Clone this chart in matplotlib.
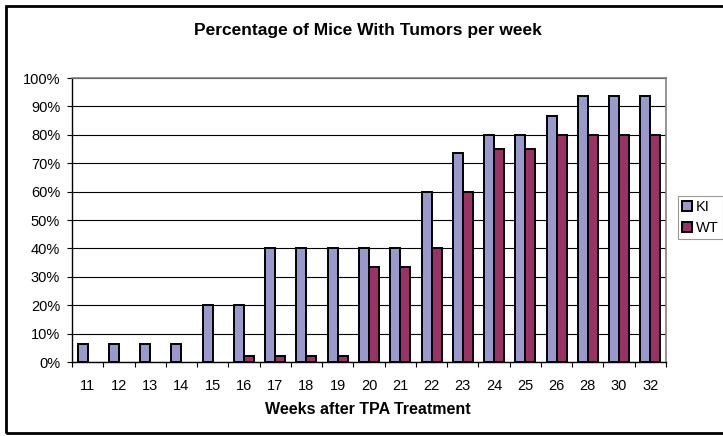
import matplotlib
matplotlib.use("Agg")
import matplotlib.pyplot as plt
import matplotlib.patches as mpatches
import numpy as np

weeks = ["11", "12", "13", "14", "15", "16", "17", "18", "19", "20",
         "21", "22", "23", "24", "25", "26", "28", "30", "32"]
ki = [6.25, 6.25, 6.25, 6.25, 20, 20, 40, 40, 40, 40,
      40, 60, 73.5, 80, 80, 86.5, 93.75, 93.75, 93.75]
wt = [0, 0, 0, 0, 0, 2, 2, 2, 2, 33.3,
      33.3, 40, 60, 75, 75, 80, 80, 80, 80]
ytick_vals = [0, 10, 20, 30, 40, 50, 60, 70, 80, 90, 100]

plt.rcParams['font.family'] = ['Liberation Sans', 'DejaVu Sans']

W, H = 723, 436
fig = plt.figure(figsize=(W / 100, H / 100), dpi=100)
ax = fig.add_axes([72 / W, (H - 362) / H, 594 / W, 284 / H])

x = np.arange(len(weeks))
bw = 0.32
ki_color = "#9999CC"
wt_color = "#993366"
ax.bar(x - bw / 2, ki, bw, color=ki_color, edgecolor="black",
       linewidth=[1.4 if v > 0 else 0 for v in ki], label="KI", zorder=3)
ax.bar(x + bw / 2, wt, bw, color=wt_color, edgecolor="black",
       linewidth=[1.4 if v > 0 else 0 for v in wt], label="WT", zorder=3)

ax.set_xlim(-0.5, len(weeks) - 0.5)
ax.set_ylim(0, 100)
ax.set_yticks(ytick_vals)
ax.set_yticklabels([f"{v}%" for v in ytick_vals], fontsize=10.5)
ax.yaxis.grid(True, color="black", linewidth=0.8, zorder=0)
ax.set_axisbelow(True)

ax.set_xticks(x)
ax.set_xticklabels(weeks, fontsize=10.5)
ax.tick_params(axis="x", which="major", length=0, pad=12)
ax.set_xticks(np.arange(-0.5, len(weeks), 1.0), minor=True)
ax.tick_params(axis="x", which="minor", length=3.5, width=0.8, direction="out")
ax.tick_params(axis="y", length=3.5, width=0.8, direction="out", pad=5)

for s in ["top", "right"]:
    ax.spines[s].set_color("#808080")
    ax.spines[s].set_linewidth(1.2)
for s in ["left", "bottom"]:
    ax.spines[s].set_color("black")
    ax.spines[s].set_linewidth(1.0)

fig.text(368 / W, 1 - 30 / H, "Percentage of Mice With Tumors per week",
         ha="center", va="center", fontsize=12.5, fontweight="bold")
fig.text(368 / W, 1 - 409 / H, "Weeks after TPA Treatment",
         ha="center", va="center", fontsize=11.5, fontweight="bold")

leg = fig.legend(loc="upper left", bbox_to_anchor=(678 / W, 1 - 196 / H),
                 fontsize=10.5, frameon=True, fancybox=False, handlelength=0.65,
                 handleheight=0.65, handletextpad=0.3, borderpad=0.3,
                 labelspacing=0.45, borderaxespad=0)
leg.get_frame().set_edgecolor("#808080")
leg.get_frame().set_linewidth(0.8)
for p in leg.get_patches():
    p.set_linewidth(1.4)

frame = mpatches.Rectangle((6 / W, 1 - 433 / H), 1.0, (433 - 6) / H,
                           transform=fig.transFigure, fill=False,
                           edgecolor="black", linewidth=2.0, clip_on=False)
fig.patches.append(frame)

fig.savefig("out.png", dpi=100)
